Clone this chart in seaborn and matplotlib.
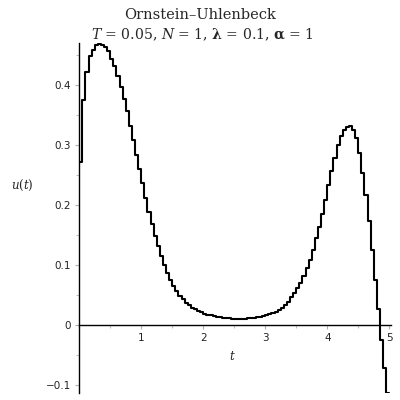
import numpy as np
import pandas as pd
import matplotlib
matplotlib.use("Agg")
import matplotlib.pyplot as plt
import seaborn as sns
from matplotlib.ticker import MultipleLocator

# ---- data ----
dt = 0.05
u_values = [
    # 0.00 - 0.95
    0.272, 0.375, 0.422, 0.448, 0.459, 0.467, 0.468, 0.466, 0.463, 0.456,
    0.444, 0.431, 0.415, 0.397, 0.376, 0.356, 0.332, 0.308, 0.283, 0.260,
    # 1.00 - 1.95
    0.236, 0.211, 0.189, 0.168, 0.148, 0.132, 0.115, 0.100, 0.086, 0.075,
    0.065, 0.057, 0.049, 0.043, 0.037, 0.033, 0.029, 0.026, 0.023, 0.021,
    # 2.00 - 2.95
    0.019, 0.017, 0.016, 0.015, 0.014, 0.013, 0.012, 0.011, 0.011, 0.010,
    0.010, 0.010, 0.010, 0.010, 0.011, 0.011, 0.012, 0.013, 0.014, 0.015,
    # 3.00 - 3.95
    0.017, 0.018, 0.020, 0.022, 0.025, 0.029, 0.033, 0.039, 0.046, 0.053,
    0.062, 0.070, 0.082, 0.095, 0.108, 0.125, 0.145, 0.164, 0.185, 0.208,
    # 4.00 - 4.95
    0.233, 0.256, 0.279, 0.300, 0.315, 0.325, 0.330, 0.331, 0.325, 0.311,
    0.286, 0.254, 0.217, 0.173, 0.125, 0.075, 0.027, -0.025, -0.072, -0.113,
]
t_edges = np.arange(len(u_values) + 1) * dt
x_ticks = [1, 2, 3, 4, 5]
x_ticklabels = ["1", "2", "3", "4", "5"]
y_ticks = [-0.1, 0, 0.1, 0.2, 0.3, 0.4]
y_ticklabels = ["\u22120.1", "0", "0.1", "0.2", "0.3", "0.4"]
title1 = "Ornstein\u2013Uhlenbeck"
title2 = r"$T$ = 0.05, $N$ = 1, $\mathbf{\lambda}$ = 0.1, $\mathbf{\alpha}$ = 1"

sns.set_theme(style="white")
plt.rcParams["font.family"] = ["DejaVu Sans"]
plt.rcParams["mathtext.fontset"] = "dejavuserif"

fig = plt.figure(figsize=(4, 4), dpi=100)
W = H = 400.0
left, right, top, bottom = 79.3, 390.5, 43.0, 392.8
ax = fig.add_axes([left / W, 1 - bottom / H, (right - left) / W, (bottom - top) / H])

df = pd.DataFrame({"t": t_edges, "u": u_values + [u_values[-1]]})
sns.lineplot(data=df, x="t", y="u", drawstyle="steps-post", color="black",
             lw=1.5, ax=ax, estimator=None, sort=False)

ax.set_xlim(0, 5.02)
ax.set_ylim(-0.113, 0.47)
ax.set_xlabel("")
ax.set_ylabel("")

for s in ["top", "right"]:
    ax.spines[s].set_visible(False)
ax.spines["left"].set_position(("data", 0))
ax.spines["bottom"].set_position(("data", 0))
for s in ["left", "bottom"]:
    ax.spines[s].set_color("black")
    ax.spines[s].set_linewidth(1.0)

ax.set_xticks(x_ticks)
ax.set_xticklabels(x_ticklabels)
ax.set_yticks(y_ticks)
ax.set_yticklabels(y_ticklabels)
ax.xaxis.set_minor_locator(MultipleLocator(0.5))
ax.yaxis.set_minor_locator(MultipleLocator(0.05))
ax.tick_params(which="major", direction="out", length=3, width=0.8,
               color="#b0b0b0", labelsize=7.5, labelcolor="#222222", pad=3)
ax.tick_params(which="minor", direction="out", length=2, width=0.8,
               color="#c0c0c0")
ax.tick_params(axis="both", which="both", bottom=True, left=True)

fig.text(0.5, 1 - 15 / H, title1, ha="center", va="center",
         family="DejaVu Serif", fontsize=10.5)
fig.text(0.505, 1 - 35 / H, title2, ha="center", va="center",
         family="DejaVu Serif", fontsize=10.1)
fig.text(22 / W, 1 - 185 / H, r"$u(t)$", ha="center", va="center", fontsize=8.5)
fig.text(232 / W, 1 - 357 / H, r"$t$", ha="center", va="center", fontsize=8.5)

fig.savefig("out.png", dpi=100)
